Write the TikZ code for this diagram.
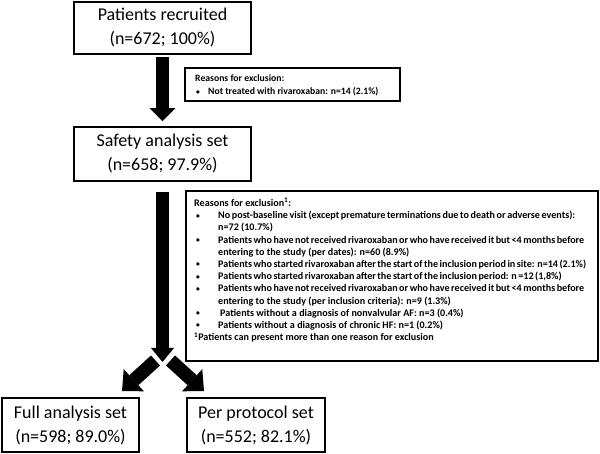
\documentclass[tikz,border=0pt]{standalone}
\usepackage{fontspec}
\setmainfont{Carlito}
\usetikzlibrary{arrows.meta}
\newcommand{\smbul}{\raisebox{0.6pt}{\fontsize{7.5}{7.5}\selectfont\textbullet}}
\newcommand{\jline}[2][357pt]{\makebox[#1][s]{#2}}
\begin{document}
\begin{tikzpicture}[x=1pt,y=-1pt,
  mainbox/.style={draw, line width=1.6pt, align=center, inner sep=0pt,
    font=\fontsize{18}{24}\selectfont},
  notebox/.style={draw, line width=1.1pt, inner sep=0pt},
  notetext/.style={inner sep=0pt, anchor=base west, align=left},
  fat/.style={line width=13.5pt, -{Triangle[length=13pt 0 0,width=26pt 0 0,line width=0pt]}},
  fatv/.style={line width=13pt, -{Triangle[length=14pt 0 0,width=23pt 0 0,line width=0pt]}},
  fatd/.style={line width=13.5pt, -{Triangle[length=16pt 0 0,width=30pt 0 0,line width=0pt]}},
]
\useasboundingbox (0,0) rectangle (600,454);

% main boxes
\node[mainbox, minimum width=177pt, minimum height=52pt] (rec) at (162.5,28) {Patients recruited\\(n=672; 100\%)};
\node[mainbox, minimum width=177pt, minimum height=54pt] (saf) at (162.5,154) {Safety analysis set\\(n=658; 97.9\%)};
\node[mainbox, minimum width=137pt, minimum height=54pt] (fas) at (70.5,425) {Full analysis set\\(n=598; 89.0\%)};
\node[mainbox, minimum width=138pt, minimum height=54pt] (pps) at (256,425) {Per protocol set\\(n=552; 82.1\%)};

% note boxes
\node[notebox, minimum width=215pt, minimum height=33pt] (ex1box) at (292.5,84.5) {};
\node[notetext, font=\fontsize{9.7}{13}\selectfont\bfseries] (ex1) at (195,82) {%
\begin{tabular}[t]{@{}p{13pt}@{}l@{}}
\multicolumn{2}{@{}l@{}}{Reasons for exclusion:}\\
\hspace{1pt}\smbul & Not treated with rivaroxaban: n=14 (2.1\%)
\end{tabular}};

\node[notebox, minimum width=412pt, minimum height=170pt] (ex2box) at (392,276) {};
\node[notetext, font=\fontsize{10.1}{12.2}\selectfont\bfseries] (ex2) at (194,206.5) {%
\begin{tabular}[t]{@{}p{24pt}@{}l@{}}
\multicolumn{2}{@{}l@{}}{Reasons for exclusion\textsuperscript{1}:}\\
\hspace{2pt}\smbul & \jline{No post-baseline visit (except premature terminations due to death or adverse events):}\\
 & n=72 (10.7\%)\\
\hspace{2pt}\smbul & \jline{Patients who have not received rivaroxaban or who have received it but <4 months before}\\
 & entering to the study (per dates): n=60 (8.9\%)\\
\hspace{2pt}\smbul & \jline[365pt]{Patients who started rivaroxaban after the start of the inclusion period in site: n=14 (2.1\%)}\\
\hspace{2pt}\smbul & \jline[343pt]{Patients who started rivaroxaban after the start of the inclusion period: n =12 (1,8\%)}\\
\hspace{2pt}\smbul & \jline{Patients who have not received rivaroxaban or who have received it but <4 months before}\\
 & entering to the study (per inclusion criteria): n=9 (1.3\%)\\
\hspace{2pt}\smbul & \hspace{2pt}Patients without a diagnosis of nonvalvular AF: n=3 (0.4\%)\\
\hspace{2pt}\smbul & Patients without a diagnosis of chronic HF: n=1 (0.2\%)\\
\multicolumn{2}{@{}l@{}}{\textsuperscript{1}Patients can present more than one reason for exclusion}
\end{tabular}};

% arrows
\draw[fat, shorten <=2pt, shorten >=5pt] (rec.south) -- (saf.north);
\coordinate (vtip) at (163,362);
\coordinate (startL) at (155.5,360.5);
\coordinate (startR) at (170.5,360.5);
\coordinate (tipL) at (122,391);
\coordinate (tipR) at (204,391);
\draw[fatv, shorten <=10pt] (saf.south) -- (saf.south |- vtip);
\draw[fatd] (startL) -- (tipL);
\draw[fatd] (startR) -- (tipR);
\end{tikzpicture}
\end{document}
